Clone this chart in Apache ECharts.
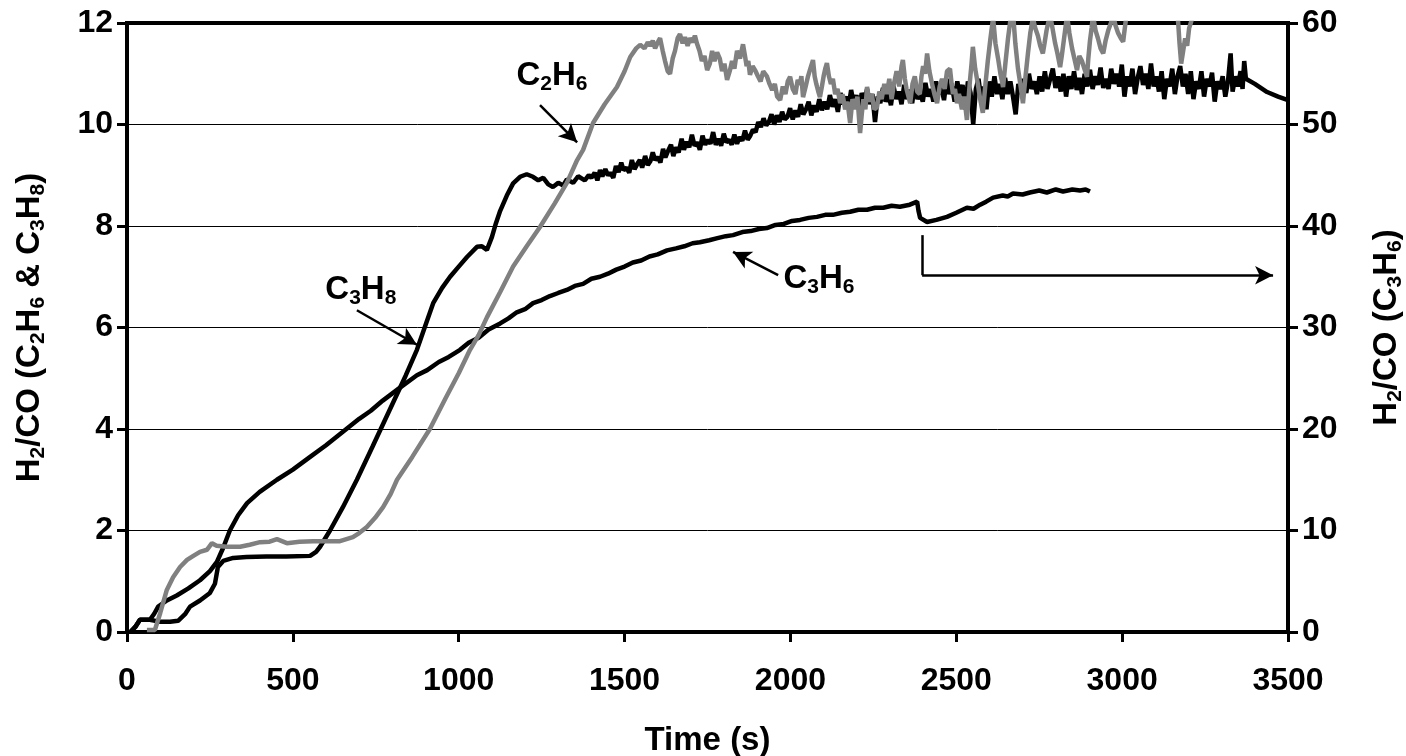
<!DOCTYPE html>
<html>
<head>
<meta charset="utf-8">
<script src="https://cdn.jsdelivr.net/npm/echarts@6/dist/echarts.min.js"></script>
<style>
html,body{margin:0;padding:0;background:#fff;}
#chart{width:1406px;height:756px;}
</style>
</head>
<body>
<div id="chart"></div>
<script>
// ---- Data ----
const xTicks = [0, 500, 1000, 1500, 2000, 2500, 3000, 3500];
const leftTicks = [0, 2, 4, 6, 8, 10, 12];
const rightTicks = [0, 10, 20, 30, 40, 50, 60];

// C3H8 : H2/CO on left axis, [time s, value]
const c3h8 = [
[10,0],[25,0.1],[39,0.24],[69,0.24],[100,0.2],[130,0.2],[154,0.22],[175,0.35],[190,0.5],[220,0.62],[250,0.77],[265,0.95],[274,1.28],[290,1.4],[320,1.46],[360,1.48],[420,1.49],[480,1.49],[552,1.5],[570,1.58],[582,1.68],[612,2.0],[650,2.45],[693,3.0],[740,3.65],[790,4.35],[840,5.05],[874,5.56],[900,6.05],[923,6.48],[950,6.78],[974,7.0],[1000,7.2],[1025,7.39],[1055,7.59],[1070,7.6],[1085,7.53],[1100,7.78],[1112,8.05],[1125,8.3],[1145,8.6],[1164,8.84],[1185,8.97],[1205,9.02],[1224,8.97],[1240,8.9],[1255,8.95],[1270,8.82],[1284,8.77],[1300,8.85],[1315,8.8],[1326,8.92],[1345,8.85],[1360,8.98],[1380,8.9],[1392,9.0],
[1400,8.95],[1410,9.05],[1418,8.9],[1426,9.1],[1433,8.98],[1442,9.12],[1450,9.0],[1457,9.05],[1466,8.95],[1474,9.18],[1482,9.06],[1490,9.25],[1497,9.1],[1506,9.15],[1514,9.05],[1522,9.3],[1530,9.12],[1538,9.22],[1546,9.3],[1553,9.15],[1562,9.38],[1570,9.2],[1578,9.28],[1585,9.45],[1592,9.3],[1600,9.36],[1608,9.25],[1616,9.52],[1623,9.35],[1631,9.48],[1640,9.6],[1647,9.38],[1655,9.55],[1663,9.45],[1672,9.72],[1679,9.5],[1687,9.66],[1695,9.55],[1703,9.8],[1711,9.58],[1719,9.65],[1727,9.5],[1735,9.78],[1743,9.6],[1751,9.7],[1759,9.62],[1767,9.85],[1775,9.6],[1783,9.72],[1791,9.58],[1799,9.82],[1807,9.65],[1815,9.7],[1823,9.6],[1831,9.8],[1839,9.62],[1847,9.75],[1855,9.68],[1863,9.88],[1871,9.7],[1879,9.78],[1887,9.9],[1895,9.85],[1903,10.05],[1911,9.95],[1919,10.12],[1927,9.98],[1935,10.05],[1943,10.2],[1951,10.0],[1959,10.18],[1967,10.05],[1975,10.25],[1983,10.1],[1991,10.15],[1999,10.32],[2007,10.1],[2015,10.28],[2023,10.15],[2031,10.4],[2039,10.2],[2047,10.3],[2055,10.45],[2063,10.18],[2071,10.38],[2079,10.25],[2087,10.5],[2095,10.28],[2103,10.45],[2111,10.3],[2119,10.58],[2127,10.35],[2135,10.5],[2143,10.25],[2151,10.62],[2159,10.4],[2167,10.55],[2175,10.35],[2183,10.68],[2191,10.4],[2199,10.58],[2207,10.3],[2215,10.62],[2223,10.45],[2231,10.7],[2239,10.4],[2247,10.6],[2255,10.05],[2263,10.55],[2271,10.42],[2279,10.72],[2287,10.45],[2295,10.6],[2303,10.38],[2311,10.75],[2319,10.5],[2327,10.65],[2335,10.4],[2343,10.78],[2351,10.5],[2359,10.68],[2367,10.42],[2375,10.8],[2383,10.5],[2391,10.62],[2399,10.45],[2407,10.82],[2415,10.55],[2423,10.7],[2431,10.45],[2439,10.85],[2447,10.6],[2455,10.72],[2463,10.48],[2471,10.9],[2479,10.6],[2487,10.75],[2495,10.45],[2503,10.85],[2511,10.58],[2519,10.78],[2527,10.3],[2535,10.85],[2543,10.62],[2551,10.0],[2559,10.7],[2567,10.9],[2575,10.5],[2583,10.75],[2591,10.3],[2599,10.85],[2607,10.55],[2615,10.95],[2623,10.6],[2631,10.8],[2639,10.5],[2647,10.92],[2655,10.6],[2663,10.85],[2671,10.55],[2679,10.2],[2687,10.8],[2695,10.6],[2703,10.9],[2711,10.62],[2719,11.0],[2727,10.7],[2735,10.85],[2743,10.6],[2751,10.95],[2759,10.65],[2767,11.05],[2775,10.7],[2783,10.9],[2791,11.1],[2799,10.72],[2807,10.95],[2815,10.65],[2823,11.0],[2831,10.55],[2839,10.95],[2847,10.7],[2855,11.05],[2863,10.68],[2871,10.92],[2879,10.6],[2887,11.0],[2895,10.75],[2903,11.08],[2911,10.7],[2919,10.95],[2927,10.78],[2935,11.12],[2943,10.72],[2951,10.9],[2959,10.7],[2967,11.1],[2975,10.8],[2983,11.0],[2991,10.75],[2999,11.18],[3007,10.55],[3015,10.95],[3023,10.75],[3031,11.1],[3039,10.6],[3047,10.92],[3055,11.15],[3063,10.78],[3071,11.0],[3079,10.7],[3087,11.2],[3095,10.75],[3103,10.95],[3111,10.65],[3119,11.05],[3127,10.5],[3135,10.9],[3143,10.75],[3151,11.1],[3159,10.6],[3167,10.95],[3175,11.15],[3183,10.75],[3191,11.0],[3199,10.6],[3207,11.05],[3215,10.5],[3223,10.85],[3231,10.7],[3239,11.05],[3247,10.55],[3255,10.9],[3263,10.75],[3271,11.02],[3279,10.45],[3287,10.85],[3295,10.7],[3303,10.95],[3311,10.55],[3319,10.85],[3327,11.4],[3333,10.65],[3341,10.95],[3349,10.75],[3357,11.05],[3363,10.7],[3368,11.25],[3373,10.9],[3400,10.8],[3437,10.64],[3470,10.55],[3500,10.48]
];

// C2H6 : H2/CO on left axis, [time s, value]
const c2h6 = [
[60,0.04],[84,0.04],[100,0.37],[120,0.83],[139,1.08],[160,1.28],[181,1.42],[200,1.5],[220,1.58],[241,1.62],[256,1.75],[270,1.7],[301,1.68],[341,1.68],[370,1.72],[401,1.77],[430,1.78],[452,1.83],[482,1.75],[520,1.78],[561,1.79],[600,1.79],[642,1.79],[681,1.87],[700,1.95],[723,2.07],[748,2.25],[772,2.46],[795,2.72],[814,3.0],[860,3.45],[913,4.0],[960,4.6],[1000,5.1],[1034,5.56],[1060,5.85],[1085,6.2],[1125,6.7],[1164,7.2],[1205,7.6],[1245,7.98],[1290,8.45],[1326,8.85],[1357,9.3],[1375,9.5],[1405,10.03],[1440,10.4],[1477,10.74],[1500,11.05],[1517,11.33],[1535,11.5],[1547,11.57],[1560,11.5],[1570,11.62],[1577,11.55],[1585,11.65],[1592,11.5],[1600,11.62],[1607,11.7],[1615,11.45],[1622,11.25],[1630,11.05],[1637,11.0],[1645,11.3],[1652,11.45],[1660,11.7],[1667,11.78],[1675,11.6],[1682,11.72],[1690,11.55],[1697,11.7],[1705,11.62],[1712,11.75],[1718,11.6],[1726,11.45],[1733,11.25],[1741,11.35],[1749,11.07],[1757,11.2],[1764,11.45],[1771,11.25],[1779,11.42],[1787,11.3],[1794,11.05],[1801,11.2],[1809,10.88],[1817,11.05],[1824,11.25],[1831,11.1],[1839,11.45],[1848,11.3],[1857,11.58],[1863,11.35],[1868,11.15],[1873,11.25],[1878,10.98],[1886,11.15],[1895,11.05],[1902,10.95],[1910,10.85],[1918,11.05],[1929,10.95],[1937,10.8],[1945,10.68],[1953,10.8],[1960,10.55],[1969,10.48],[1977,10.75],[1985,10.6],[1992,10.85],[1999,10.94],[2007,10.7],[2015,10.6],[2022,10.88],[2028,10.78],[2033,10.95],[2038,10.54],[2046,10.75],[2053,10.95],[2060,11.1],[2068,11.27],[2073,10.95],[2078,10.8],[2084,10.65],[2089,10.54],[2095,10.75],[2100,10.95],[2105,11.1],[2110,11.21],[2116,10.95],[2122,10.8],[2128,10.9],[2135,10.6],[2142,10.7],[2150,10.42],[2157,10.6],[2165,10.3],[2172,10.45],[2180,10.03],[2187,10.5],[2195,10.3],[2202,10.55],[2210,9.83],[2215,10.2],[2220,10.5],[2226,10.3],[2231,10.74],[2238,10.45],[2245,10.6],[2253,10.3],[2261,10.34],[2268,10.65],[2275,10.5],[2283,10.8],[2291,10.6],[2298,10.9],[2305,10.5],[2312,10.8],[2320,11.05],[2328,10.75],[2335,11.15],[2339,11.27],[2345,10.9],[2350,10.7],[2356,10.55],[2361,10.42],[2368,10.8],[2375,10.95],[2382,10.65],[2390,10.6],[2395,10.95],[2400,11.15],[2406,11.0],[2412,11.4],[2419,11.05],[2427,10.8],[2434,10.6],[2442,10.42],[2450,10.75],[2457,10.9],[2465,10.7],[2472,11.05],[2481,11.1],[2486,10.8],[2490,10.6],[2496,10.7],[2502,10.42],[2508,10.6],[2517,10.3],[2524,10.55],[2532,10.09],[2537,10.5],[2541,10.85],[2546,11.2],[2550,11.53],[2557,11.1],[2565,10.8],[2572,10.5],[2580,10.23],[2588,10.8],[2595,11.25],[2603,11.7],[2611,12.1],[2618,11.6],[2626,11.3],[2633,11.0],[2641,10.74],[2648,11.2],[2656,11.7],[2663,12.05],[2671,12.2],[2678,11.6],[2686,11.1],[2693,10.8],[2701,10.42],[2708,10.9],[2716,11.4],[2723,11.8],[2731,12.1],[2738,11.9],[2746,11.75],[2753,11.55],[2761,11.4],[2766,11.6],[2772,11.85],[2777,12.0],[2783,12.15],[2790,11.9],[2798,11.6],[2805,11.4],[2813,11.13],[2818,11.35],[2824,11.65],[2829,11.9],[2834,12.15],[2841,11.8],[2849,11.5],[2856,11.3],[2864,11.07],[2871,11.35],[2879,11.25],[2886,11.1],[2894,10.94],[2898,11.3],[2903,11.65],[2908,11.9],[2912,12.15],[2920,11.85],[2927,11.7],[2935,11.5],[2943,11.4],[2950,11.65],[2958,11.85],[2966,12.0],[2973,12.15],[2980,11.95],[2988,11.8],[2996,11.7],[3003,11.63],[3010,12.0],[3015,12.25],[3050,12.5],[3100,12.6],[3150,12.4],[3168,12.1],[3173,11.6],[3178,11.2],[3184,11.45],[3190,11.7],[3196,11.55],[3202,11.9],[3214,12.15],[3225,12.4]
];

// C3H6 : H2/CO on right axis, [time s, value]
const c3h6 = [
[10,0],[25,0.5],[39,1.2],[69,1.2],[82,1.8],[94,2.5],[120,3.1],[150,3.6],[185,4.3],[220,5.1],[250,6.0],[271,6.9],[290,8.3],[310,10.0],[335,11.5],[362,12.7],[400,13.8],[452,15.0],[500,16.0],[550,17.2],[600,18.4],[650,19.7],[700,21.0],[735,21.8],[771,22.8],[820,24.0],[874,25.3],[905,25.8],[940,26.6],[970,27.1],[1004,27.8],[1030,28.5],[1060,29.0],[1090,29.8],[1125,30.4],[1150,30.9],[1175,31.5],[1200,31.8],[1224,32.4],[1250,32.7],[1275,33.1],[1300,33.4],[1326,33.7],[1350,34.1],[1375,34.3],[1400,34.8],[1426,35.0],[1450,35.3],[1475,35.7],[1500,36.0],[1525,36.4],[1550,36.6],[1575,37.0],[1600,37.2],[1628,37.6],[1655,37.8],[1680,38.0],[1705,38.3],[1727,38.4],[1755,38.6],[1780,38.8],[1805,39.0],[1827,39.1],[1855,39.4],[1880,39.5],[1905,39.7],[1929,39.8],[1955,40.1],[1980,40.2],[2005,40.5],[2029,40.6],[2055,40.8],[2080,40.9],[2105,41.1],[2128,41.1],[2155,41.3],[2180,41.4],[2205,41.6],[2231,41.6],[2255,41.8],[2280,41.8],[2305,42.0],[2330,41.9],[2360,42.1],[2382,42.4],[2386,41.5],[2391,40.8],[2412,40.4],[2440,40.6],[2472,40.9],[2500,41.3],[2532,41.8],[2552,41.7],[2572,42.1],[2590,42.4],[2611,42.8],[2640,43.0],[2655,42.9],[2671,43.2],[2700,43.1],[2722,43.3],[2750,43.5],[2773,43.3],[2800,43.6],[2822,43.4],[2850,43.6],[2873,43.5],[2890,43.6],[2903,43.4]
];

// Annotation anchors in left-axis units [time s, value]
const labelC2H6 = [1281, 10.96];
const arrowC2H6 = [[1245, 10.38], [1357, 9.65]];
const labelC3H8 = [705, 6.74];
const arrowC3H8 = [[693, 6.34], [874, 5.66]];
const labelC3H6 = [2086, 6.96];
const arrowC3H6 = [[1963, 7.03], [1827, 7.49]];
const rightArrowCorner = [[2397, 7.82], [2397, 7.03], [3455, 7.03]];

// ---- Chart ----
const FONT = '"Liberation Sans", Arial, sans-serif';
const rich = {
  n: { fontFamily: FONT, fontWeight: 'bold', fontSize: 33, color: '#000', lineHeight: 38 },
  s: { fontFamily: FONT, fontWeight: 'bold', fontSize: 21, color: '#000', lineHeight: 13, verticalAlign: 'bottom' }
};
const chart = echarts.init(document.getElementById('chart'), null, { renderer: 'canvas' });

function textPoint(coord, fmt) {
  return {
    coord: coord, symbol: 'circle', symbolSize: 1,
    itemStyle: { color: 'rgba(0,0,0,0)' },
    label: { show: true, position: 'inside', formatter: fmt, rich: rich }
  };
}
function arrow(seg) {
  return [{ coord: seg[0], symbol: 'none' }, { coord: seg[1], symbol: 'arrow', symbolSize: [14, 18] }];
}

const axisCommon = {
  axisLine: { show: true, lineStyle: { color: '#000', width: 4 } },
  axisTick: { show: true, inside: false, length: 10, lineStyle: { color: '#000', width: 3 } },
  axisLabel: { color: '#000', fontFamily: FONT, fontWeight: 'bold', fontSize: 32, formatter: function (v) { return String(v); } },
  nameTextStyle: { color: '#000', fontFamily: FONT, fontWeight: 'bold', fontSize: 33, rich: rich }
};

chart.setOption({
  animation: false,
  backgroundColor: '#fff',
  grid: { left: 127, right: 118, top: 23, bottom: 124, show: true, borderColor: '#000', borderWidth: 4, containLabel: false, outerBoundsMode: 'none' },
  xAxis: Object.assign({}, axisCommon, {
    type: 'value', min: xTicks[0], max: xTicks[xTicks.length - 1], interval: 500,
    name: 'Time (s)', nameLocation: 'middle', nameGap: 92,
    nameTextStyle: { color: '#000', fontFamily: FONT, fontWeight: 'bold', fontSize: 33 },
    axisLabel: Object.assign({}, axisCommon.axisLabel, { margin: 33 }),
    splitLine: { show: false }
  }),
  yAxis: [
    Object.assign({}, axisCommon, {
      type: 'value', position: 'left', min: leftTicks[0], max: leftTicks[leftTicks.length - 1], interval: 2,
      name: '{n|H}{s|2}{n|/CO (C}{s|2}{n|H}{s|6}{n| & C}{s|3}{n|H}{s|8}{n|)}',
      nameLocation: 'middle', nameRotate: 90, nameGap: 78,
      axisLabel: Object.assign({}, axisCommon.axisLabel, { margin: 14 }),
      splitLine: { show: true, lineStyle: { color: '#000', width: 1 } }
    }),
    Object.assign({}, axisCommon, {
      type: 'value', position: 'right', min: rightTicks[0], max: rightTicks[rightTicks.length - 1], interval: 10,
      name: '{n|H}{s|2}{n|/CO (C}{s|3}{n|H}{s|6}{n|)}',
      nameLocation: 'middle', nameRotate: 90, nameGap: 80,
      axisLabel: Object.assign({}, axisCommon.axisLabel, { margin: 14 }),
      splitLine: { show: false }
    })
  ],
  series: [
    {
      name: 'C3H8', type: 'line', yAxisIndex: 0, data: c3h8, showSymbol: false, symbol: 'none',
      lineStyle: { color: '#000', width: 4.5 }, clip: true, z: 2,
      markLine: {
        silent: true, animation: false, label: { show: false },
        lineStyle: { color: '#000', width: 2.5, type: 'solid' },
        data: [arrow(arrowC2H6), arrow(arrowC3H8), arrow(arrowC3H6),
          [{ coord: rightArrowCorner[0], symbol: 'none' }, { coord: rightArrowCorner[1], symbol: 'none' }],
          [{ coord: rightArrowCorner[1], symbol: 'none' }, { coord: rightArrowCorner[2], symbol: 'arrow', symbolSize: [14, 18] }]
        ]
      },
      markPoint: {
        silent: true, animation: false,
        data: [
          textPoint(labelC2H6, '{n|C}{s|2}{n|H}{s|6}'),
          textPoint(labelC3H8, '{n|C}{s|3}{n|H}{s|8}'),
          textPoint(labelC3H6, '{n|C}{s|3}{n|H}{s|6}')
        ]
      }
    },
    {
      name: 'C2H6', type: 'line', yAxisIndex: 0, data: c2h6, showSymbol: false, symbol: 'none',
      lineStyle: { color: '#808080', width: 4.5 }, clip: true, z: 3
    },
    {
      name: 'C3H6', type: 'line', yAxisIndex: 1, data: c3h6, showSymbol: false, symbol: 'none',
      lineStyle: { color: '#000', width: 4.5 }, clip: true, z: 2
    }
  ]
});
</script>
</body>
</html>
